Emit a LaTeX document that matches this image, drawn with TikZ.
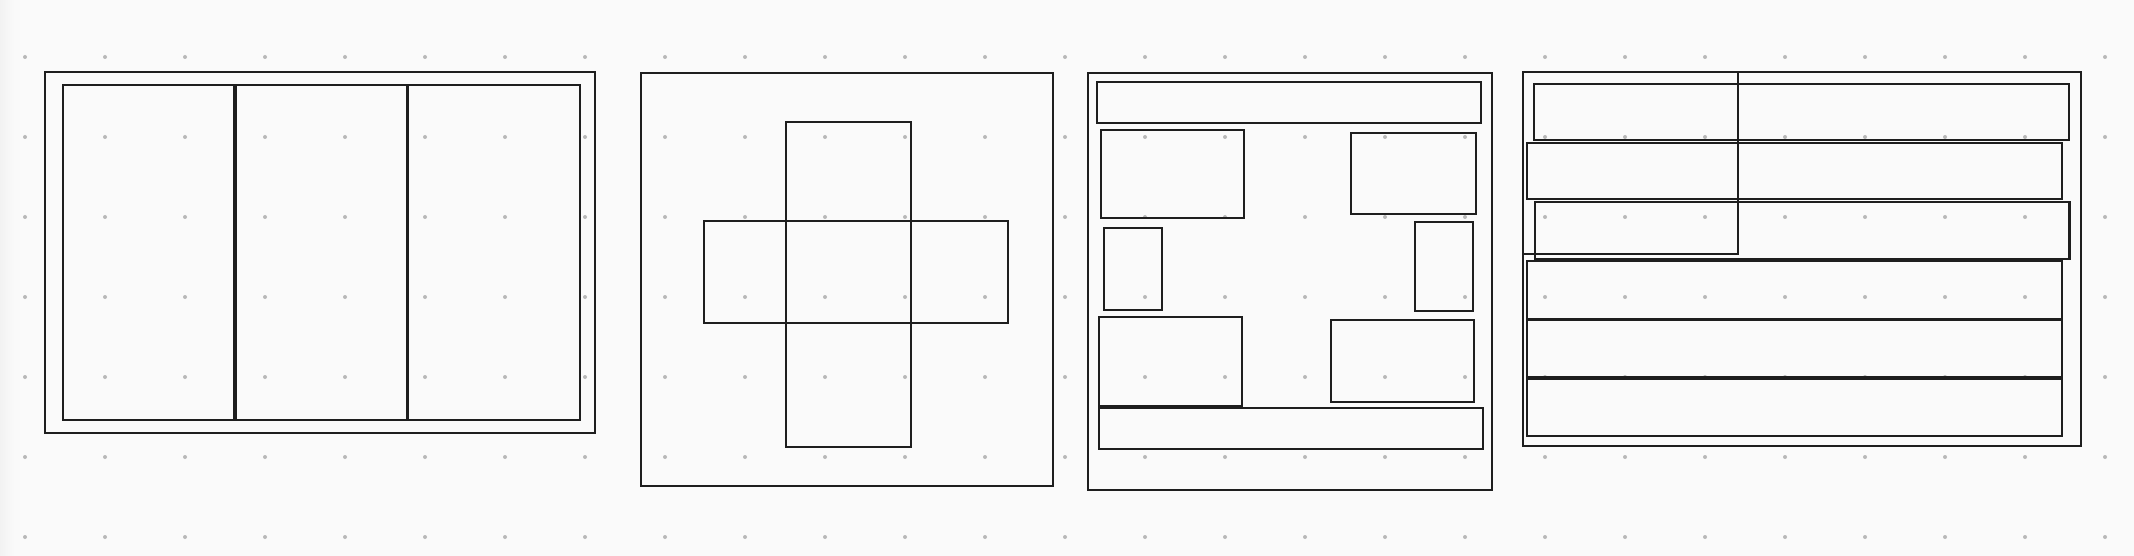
\documentclass[tikz,border=0pt]{standalone}
\definecolor{bg}{HTML}{FAFAFA}
\definecolor{ink}{HTML}{1E1E1E}
\definecolor{dotc}{HTML}{B8B8B8}
\begin{document}
\begin{tikzpicture}[x=1pt,y=-1pt,
  box/.style={draw=ink,line width=2pt},
  divider/.style={draw=ink,line width=3.2pt},
  thickrow/.style={draw=ink,line width=2.6pt}]
\fill[bg] (0,0) rectangle (2134,556);
\useasboundingbox (0,0) rectangle (2134,556);
\shade[left color=black!5, right color=bg] (0,0) rectangle (14,556);
\foreach \i in {0,...,26} \foreach \j in {0,...,6}
  \fill[dotc] (25+80*\i, 57+80*\j) circle (2);
% Panel 1
\draw[box] (44.5,72) rectangle (595,432.5);
\draw[box] (63,85) rectangle (580,420);
\draw[divider] (235,85) -- (235,420);
\draw[divider] (407.5,85) -- (407.5,420);
% Panel 2
\draw[box] (641,73.5) rectangle (1053,486);
\draw[box] (786,122.5) rectangle (911,447);
\draw[box] (704,221) rectangle (1008,322.5);
% Panel 3
\draw[box] (1088,73.5) rectangle (1492,490);
\draw[box] (1097,82) rectangle (1481,123.5);
\draw[box] (1101,130) rectangle (1244,218.5);
\draw[box] (1351,133) rectangle (1476,214.5);
\draw[box] (1104,228) rectangle (1162,309.5);
\draw[box] (1414.5,222) rectangle (1472.5,310.5);
\draw[box] (1099,316.5) rectangle (1242,405.5);
\draw[box] (1331,319.5) rectangle (1474,401.5);
\draw[box] (1099,407.5) rectangle (1483,449);
% Panel 4
\draw[box] (1522.5,72.5) rectangle (2081,446);
\draw[box] (1534,84) rectangle (2069,140.5);
\draw[box] (1527,143) rectangle (2062,199.5);
\draw[thickrow] (1535,202) rectangle (2069.5,259);
\draw[box] (1527,261) rectangle (2062,318.5);
\draw[thickrow] (1527,319.5) rectangle (2062,377.5);
\draw[box] (1527,379) rectangle (2062,436);
\draw[box] (1522.5,72) rectangle (1738,254.5);
\end{tikzpicture}
\end{document}
